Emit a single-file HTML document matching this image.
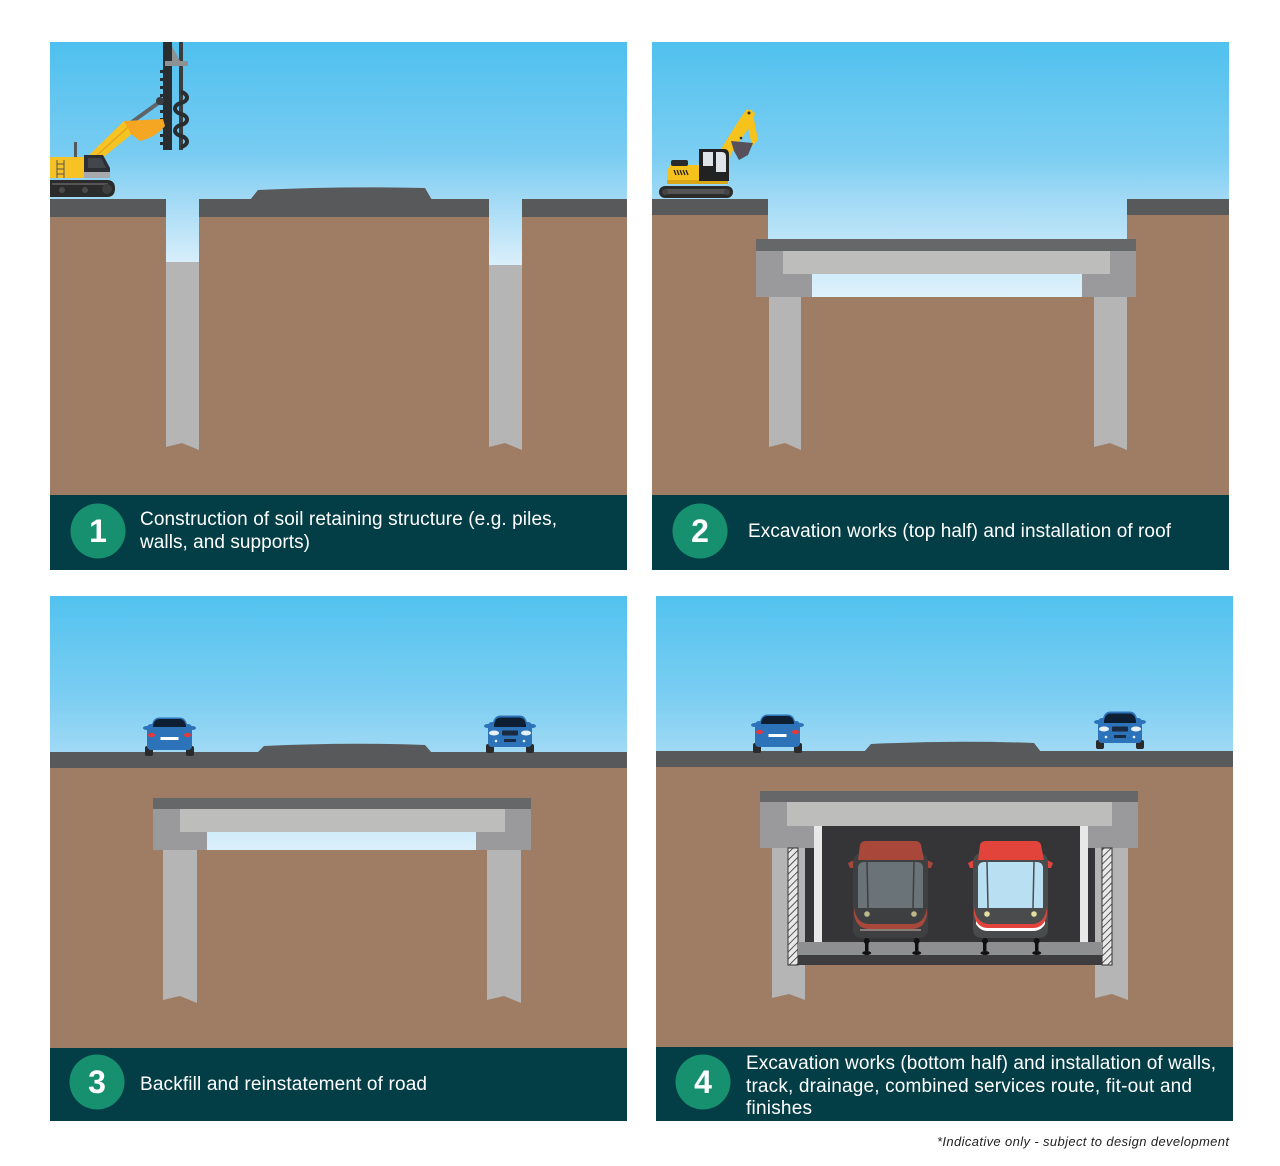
<!DOCTYPE html>
<html><head><meta charset="utf-8"><style>
html,body{margin:0;padding:0;background:#fff;}
svg{display:block;}
text{font-family:"Liberation Sans",Arial,sans-serif;}
</style></head><body>
<svg width="1280" height="1166" viewBox="0 0 1280 1166" xmlns="http://www.w3.org/2000/svg">
<defs>
<linearGradient id="sky1" gradientUnits="userSpaceOnUse" x1="0" y1="42" x2="0" y2="268">
<stop offset="0" stop-color="#4fc0ee"/><stop offset="0.5" stop-color="#78ccf2"/><stop offset="0.7" stop-color="#a3daf5"/><stop offset="1" stop-color="#dcf0fb"/></linearGradient>
<linearGradient id="sky2" gradientUnits="userSpaceOnUse" x1="0" y1="42" x2="0" y2="298">
<stop offset="0" stop-color="#50c1ee"/><stop offset="0.45" stop-color="#7ccef2"/><stop offset="0.62" stop-color="#a3daf5"/><stop offset="0.8" stop-color="#c2e6f8"/><stop offset="1" stop-color="#dff2fc"/></linearGradient>
<linearGradient id="sky3" gradientUnits="userSpaceOnUse" x1="0" y1="596" x2="0" y2="852">
<stop offset="0" stop-color="#52c2ef"/><stop offset="0.4" stop-color="#7ccef2"/><stop offset="0.61" stop-color="#a0d9f4"/><stop offset="1" stop-color="#dcf0fb"/></linearGradient>
<pattern id="hatch" width="5" height="5" patternUnits="userSpaceOnUse" patternTransform="rotate(45)">
<rect width="5" height="5" fill="#e9e9e9"/><line x1="0" y1="0" x2="0" y2="5" stroke="#333" stroke-width="1.6"/></pattern>
<g id="rearcar">
<ellipse cx="3.5" cy="11" rx="3.5" ry="2" fill="#2c73b9"/>
<ellipse cx="49.5" cy="11" rx="3.5" ry="2" fill="#2c73b9"/>
<rect x="2" y="29" width="8" height="10" rx="2" fill="#2a2a2a"/>
<rect x="43" y="29" width="8" height="10" rx="2" fill="#2a2a2a"/>
<path d="M9,8 Q10,1 16,0.5 L37,0.5 Q43,1 44,8 Z" fill="#2c73b9"/>
<rect x="4" y="7" width="45" height="26" rx="4" fill="#2c73b9"/>
<path d="M10,9 Q11,2.5 16,2 L37,2 Q42,2.5 43,9 L43,10 L10,10 Z" fill="#0e1f33"/>
<ellipse cx="8.5" cy="18" rx="3.5" ry="2.3" fill="#e03a3f"/>
<ellipse cx="44.5" cy="18" rx="3.5" ry="2.3" fill="#e03a3f"/>
<rect x="17.5" y="20" width="18" height="3" fill="#fff"/>
</g>
<g id="frontcar">
<ellipse cx="3.5" cy="11" rx="3.5" ry="2" fill="#2c73b9"/>
<ellipse cx="48.5" cy="11" rx="3.5" ry="2" fill="#2c73b9"/>
<rect x="2" y="29" width="8" height="9" rx="2" fill="#2a2a2a"/>
<rect x="42" y="29" width="8" height="9" rx="2" fill="#2a2a2a"/>
<path d="M9,8 Q10,1 16,0.5 L36,0.5 Q42,1 43,8 Z" fill="#2c73b9"/>
<rect x="4" y="7" width="44" height="25" rx="4" fill="#2c73b9"/>
<path d="M10,10 Q11,3 16,2.5 L36,2.5 Q41,3 42,10 L42,12 L10,12 Z" fill="#0e1f33"/>
<ellipse cx="10" cy="18" rx="5" ry="2.5" fill="#e8f1f8"/>
<ellipse cx="42" cy="18" rx="5" ry="2.5" fill="#e8f1f8"/>
<rect x="18" y="15.5" width="16" height="5" rx="1" fill="#1a2a40"/>
<rect x="20" y="24" width="12" height="3" fill="#1a2a40"/>
<circle cx="12" cy="26" r="1.3" fill="#e8f1f8"/><circle cx="40" cy="26" r="1.3" fill="#e8f1f8"/>
</g>
</defs>

<!-- PANEL 1 -->
<rect x="50" y="42" width="577" height="453" fill="url(#sky1)"/>
<rect x="50" y="217" width="577" height="278" fill="#9e7d64"/>
<rect x="166" y="217" width="33" height="46" fill="url(#sky1)"/>
<rect x="489" y="217" width="33" height="49" fill="url(#sky1)"/>
<polygon points="166,262 199,262 199,450 182,443 166,447" fill="#b5b5b6"/>
<polygon points="489,265 522,265 522,450 505,443 489,447" fill="#b5b5b6"/>
<rect x="50" y="199" width="116" height="18" fill="#58595b"/>
<rect x="199" y="199" width="290" height="18" fill="#58595b"/>
<rect x="522" y="199" width="105" height="18" fill="#58595b"/>
<path d="M250,200 L258,190 Q340,186 425,188 L432,200 Z" fill="#58595b"/>
<!-- crane -->
<rect x="179" y="42" width="4" height="108" fill="#3b3e41"/>
<rect x="163" y="42" width="9" height="108" fill="#2a2d30"/>
<g fill="#2a2d30"><rect x="160" y="70" width="3" height="3"/><rect x="160" y="78" width="3" height="3"/><rect x="160" y="86" width="3" height="3"/><rect x="160" y="94" width="3" height="3"/><rect x="160" y="102" width="3" height="3"/><rect x="160" y="110" width="3" height="3"/><rect x="160" y="118" width="3" height="3"/><rect x="160" y="126" width="3" height="3"/><rect x="160" y="134" width="3" height="3"/><rect x="160" y="142" width="3" height="3"/></g>
<rect x="165" y="61" width="23" height="5" fill="#8e9194"/>
<polygon points="172,46 172,61 180,61" fill="#8e9194"/>
<path d="M181,92 c8,2 8,9 0,11 c-8,2 -8,9 0,11 c8,2 8,9 0,11 c-8,2 -8,9 0,11 c8,2 8,9 0,11" fill="none" stroke="#2a2d30" stroke-width="4"/>
<line x1="125" y1="127" x2="161" y2="101" stroke="#5f6367" stroke-width="4"/>
<circle cx="160" cy="101" r="4" fill="#3b3e41"/>
<polygon points="84,160 100,160 133,133 124,121" fill="#f7c223"/>
<line x1="92" y1="160" x2="128" y2="127" stroke="#e0a81a" stroke-width="1.5"/>
<path d="M124,121 L163,119 L165,126 Q156,137 140,141 L131,134 Z" fill="#f5a623"/>
<rect x="74" y="142" width="3" height="15" fill="#55595d"/>
<rect x="50" y="157" width="34" height="21" fill="#f7c223"/>
<g stroke="#555" stroke-width="1"><line x1="57" y1="160" x2="57" y2="178"/><line x1="64" y1="160" x2="64" y2="178"/><line x1="57" y1="164" x2="64" y2="164"/><line x1="57" y1="169" x2="64" y2="169"/><line x1="57" y1="174" x2="64" y2="174"/></g>
<polygon points="84,155 103,155 110,168 110,176 84,176" fill="#2c2f33"/>
<polygon points="88,158 101,158 106,168 88,168" fill="#43474c"/>
<rect x="84" y="172" width="26" height="6" fill="#a7a9ac"/>
<path d="M50,180 L107,180 Q115,180 115,188.5 Q115,197 107,197 L50,197 Z" fill="#2b2b2b"/>
<rect x="52" y="183" width="56" height="2" fill="#555"/>
<circle cx="62" cy="190" r="3" fill="#4a4a4a"/><circle cx="85" cy="190" r="3" fill="#4a4a4a"/><circle cx="107" cy="189" r="5" fill="#3e3e3e"/>
<!-- caption 1 -->
<rect x="50" y="495" width="577" height="75" fill="#033d45"/>
<circle cx="98" cy="531" r="27.5" fill="#16906f"/>
<text x="98" y="542" font-size="32" font-weight="bold" fill="#fff" text-anchor="middle">1</text>
<text x="140" y="525" font-size="19" fill="#fff" textLength="417" lengthAdjust="spacing">Construction of soil retaining structure (e.g. piles,</text>
<text x="140" y="548" font-size="19" fill="#fff" textLength="170" lengthAdjust="spacing">walls, and supports)</text>

<!-- PANEL 2 -->
<rect x="652" y="42" width="577" height="453" fill="url(#sky2)"/>
<rect x="652" y="215" width="116" height="280" fill="#9e7d64"/>
<rect x="1127" y="215" width="102" height="280" fill="#9e7d64"/>
<rect x="652" y="297" width="577" height="198" fill="#9e7d64"/>
<rect x="652" y="199" width="116" height="16" fill="#58595b"/>
<rect x="1127" y="199" width="102" height="16" fill="#58595b"/>
<rect x="756" y="251" width="380" height="46" fill="#9a9a9c"/>
<rect x="756" y="239" width="380" height="12" fill="#666768"/>
<rect x="783" y="251" width="327" height="23" fill="#bdbdbb"/>
<rect x="812" y="274" width="270" height="23" fill="url(#sky2)"/>
<polygon points="769,297 801,297 801,450 785,443 769,447" fill="#b5b5b6"/>
<polygon points="1094,297 1127,297 1127,450 1110,443 1094,447" fill="#b5b5b6"/>
<!-- excavator -->
<polygon points="711,168 721,149 741,117 747,109 755,113 753,122 732,152 726,168" fill="#f6c21c"/>
<polygon points="745,114 752,109 758,140 752,146" fill="#f6c21c"/>
<polygon points="731,141 753,143 748,155 739,160 734,151" fill="#57505a"/>
<circle cx="749" cy="113" r="1.5" fill="#333"/><circle cx="741" cy="138" r="1.3" fill="#333"/>
<path d="M670,168 Q667,168 667,172 L667,182 Q667,184 670,184 L728,184 L728,165 L670,165 Z" fill="#f6c21c"/>
<rect x="667" y="180" width="61" height="4" fill="#d9a514"/>
<rect x="671" y="160" width="17" height="6" rx="2" fill="#2b2b2b"/>
<g stroke="#222" stroke-width="1.3"><line x1="674" y1="170" x2="676" y2="175"/><line x1="677" y1="170" x2="679" y2="175"/><line x1="680" y1="170" x2="682" y2="175"/><line x1="683" y1="170" x2="685" y2="175"/><line x1="686" y1="170" x2="688" y2="175"/></g>
<path d="M699,149 L724,149 Q729,149 729,155 L729,181 L699,181 Z" fill="#222"/>
<rect x="703" y="152" width="10" height="14" fill="#dfe4e8"/>
<path d="M716,152 L722,152 Q726,152 726,157 L726,172 L716,172 Z" fill="#dfe4e8"/>
<rect x="659" y="186" width="74" height="12" rx="6" fill="#2b2b2b"/>
<rect x="665" y="189" width="62" height="5" fill="#555"/>
<circle cx="665" cy="192" r="3" fill="#444"/><circle cx="727" cy="192" r="3" fill="#444"/>

<!-- caption 2 -->
<rect x="652" y="495" width="577" height="75" fill="#033d45"/>
<circle cx="700" cy="531" r="27.5" fill="#16906f"/>
<text x="700" y="542" font-size="32" font-weight="bold" fill="#fff" text-anchor="middle">2</text>
<text x="748" y="537" font-size="19" fill="#fff" textLength="423" lengthAdjust="spacing">Excavation works (top half) and installation of roof</text>

<!-- PANEL 3 -->
<rect x="50" y="596" width="577" height="452" fill="url(#sky3)"/>
<rect x="50" y="768" width="577" height="280" fill="#9e7d64"/>
<rect x="50" y="752" width="577" height="16" fill="#58595b"/>
<path d="M257,753 L264,746 Q345,742 425,745 L432,753 Z" fill="#58595b"/>
<rect x="153" y="809" width="378" height="41" fill="#9a9a9c"/>
<rect x="153" y="798" width="378" height="11" fill="#666768"/>
<rect x="180" y="809" width="325" height="23" fill="#bdbdbb"/>
<rect x="207" y="832" width="269" height="18" fill="url(#sky3)"/>
<polygon points="163,850 197,850 197,1003 180,996 163,1000" fill="#b5b5b6"/>
<polygon points="487,850 521,850 521,1003 504,996 487,1000" fill="#b5b5b6"/>
<use href="#rearcar" x="143" y="717"/>
<use href="#frontcar" x="484" y="715"/>
<!-- caption 3 -->
<rect x="50" y="1048" width="577" height="73" fill="#033d45"/>
<circle cx="97" cy="1082" r="27.5" fill="#16906f"/>
<text x="97" y="1093" font-size="32" font-weight="bold" fill="#fff" text-anchor="middle">3</text>
<text x="140" y="1090" font-size="19" fill="#fff" textLength="287" lengthAdjust="spacing">Backfill and reinstatement of road</text>

<!-- PANEL 4 -->
<rect x="656" y="596" width="577" height="451" fill="url(#sky3)"/>
<rect x="656" y="767" width="577" height="280" fill="#9e7d64"/>
<rect x="656" y="751" width="577" height="16" fill="#58595b"/>
<path d="M864,752 L871,744 Q952,740 1034,743 L1041,752 Z" fill="#58595b"/>
<use href="#rearcar" x="751" y="714"/>
<use href="#frontcar" x="1094" y="711"/>
<!-- structure -->
<polygon points="772,848 805,848 805,1000 789,994 772,998" fill="#b5b5b6"/>
<polygon points="1095,848 1128,848 1128,1000 1112,994 1095,998" fill="#b5b5b6"/>
<rect x="805" y="826" width="290" height="116" fill="#353537"/>
<rect x="760" y="802" width="378" height="46" fill="#9a9a9c"/>
<rect x="760" y="791" width="378" height="11" fill="#666768"/>
<rect x="787" y="802" width="325" height="24" fill="#bdbdbb"/>
<rect x="822" y="826" width="258" height="22" fill="#353537"/>
<rect x="814" y="826" width="8" height="118" fill="#e8e8e8"/>
<rect x="1080" y="826" width="8" height="118" fill="#e8e8e8"/>
<rect x="788" y="848" width="10" height="117" fill="url(#hatch)" stroke="#333" stroke-width="1"/>
<rect x="1102" y="848" width="10" height="117" fill="url(#hatch)" stroke="#333" stroke-width="1"/>
<rect x="798" y="942" width="304" height="13" fill="#8e8f91"/>
<rect x="798" y="955" width="304" height="10" fill="#3d3d3f"/>
<!-- dim tram -->
<g transform="translate(848,841)">
<polygon points="8,18 0,22 2,27 8,27" fill="#a8473a"/>
<polygon points="77,18 85,22 83,27 77,27" fill="#a8473a"/>
<path d="M5,22 Q5,12 15,12 L70,12 Q80,12 80,22 L80,88 Q80,97 70,97 L15,97 Q5,97 5,88 Z" fill="#3e3f41"/>
<path d="M10,19 L12,4 Q13,0 18,0 L67,0 Q72,0 73,4 L76,19 Z" fill="#a8473a"/>
<path d="M10,26 Q11,21 16,21 L69,21 Q74,21 75,26 L75,67 L10,67 Z" fill="#6a7378"/>
<line x1="19" y1="21" x2="20" y2="67" stroke="#3e3f41" stroke-width="1.5"/>
<line x1="66" y1="21" x2="65" y2="67" stroke="#3e3f41" stroke-width="1.5"/>
<circle cx="19" cy="73" r="2.8" fill="#bdb88a"/><circle cx="66" cy="73" r="2.8" fill="#bdb88a"/>
<path d="M6,66 Q8,82 20,83 L65,83 Q77,82 79,66 L79,73 Q77,87 65,88 L20,88 Q8,87 6,73 Z" fill="#a8473a"/>
<rect x="12" y="88" width="61" height="2" fill="#8a7d78"/>
</g>
<!-- bright tram -->
<g transform="translate(968,841)">
<polygon points="8,18 0,22 2,27 8,27" fill="#e2443b"/>
<polygon points="77,18 85,22 83,27 77,27" fill="#e2443b"/>
<path d="M5,22 Q5,12 15,12 L70,12 Q80,12 80,22 L80,88 Q80,97 70,97 L15,97 Q5,97 5,88 Z" fill="#4a4b4d"/>
<path d="M10,19 L12,4 Q13,0 18,0 L67,0 Q72,0 73,4 L76,19 Z" fill="#e2443b"/>
<path d="M10,26 Q11,21 16,21 L69,21 Q74,21 75,26 L75,67 L10,67 Z" fill="#b9dff3"/>
<line x1="19" y1="21" x2="20" y2="67" stroke="#4a4b4d" stroke-width="1.5"/>
<line x1="66" y1="21" x2="65" y2="67" stroke="#4a4b4d" stroke-width="1.5"/>
<circle cx="19" cy="73" r="2.8" fill="#e3df9e"/><circle cx="66" cy="73" r="2.8" fill="#e3df9e"/>
<path d="M6,66 Q8,82 20,83 L65,83 Q77,82 79,66 L79,73 Q77,87 65,88 L20,88 Q8,87 6,73 Z" fill="#e2443b"/>
<path d="M8,80 Q12,87 20,87 L65,87 Q73,87 77,80 L77,83 Q73,90 65,90 L20,90 Q12,90 8,83 Z" fill="#ffffff"/>
</g>
<!-- rails -->
<g fill="#111">
<rect x="865" y="940" width="3.5" height="11"/><circle cx="866.7" cy="941" r="3"/><ellipse cx="866.7" cy="953" rx="4.5" ry="2"/>
<rect x="915" y="940" width="3.5" height="11"/><circle cx="916.7" cy="941" r="3"/><ellipse cx="916.7" cy="953" rx="4.5" ry="2"/>
<rect x="983" y="940" width="3.5" height="11"/><circle cx="985" cy="941" r="3"/><ellipse cx="985" cy="953" rx="4.5" ry="2"/>
<rect x="1035" y="940" width="3.5" height="11"/><circle cx="1036.7" cy="941" r="3"/><ellipse cx="1036.7" cy="953" rx="4.5" ry="2"/>
</g>
<!-- caption 4 -->
<rect x="656" y="1047" width="577" height="74" fill="#033d45"/>
<circle cx="703" cy="1082" r="27.5" fill="#16906f"/>
<text x="703" y="1093" font-size="32" font-weight="bold" fill="#fff" text-anchor="middle">4</text>
<text x="746" y="1069" font-size="19" fill="#fff" textLength="470" lengthAdjust="spacing">Excavation works (bottom half) and installation of walls,</text>
<text x="746" y="1092" font-size="19" fill="#fff" textLength="446" lengthAdjust="spacing">track, drainage, combined services route, fit-out and</text>
<text x="746" y="1114" font-size="19" fill="#fff" textLength="66" lengthAdjust="spacing">finishes</text>

<!-- footnote -->
<text x="937" y="1146" font-size="13" font-style="italic" fill="#222" textLength="292" lengthAdjust="spacing">*Indicative only - subject to design development</text>
</svg>
</body></html>
